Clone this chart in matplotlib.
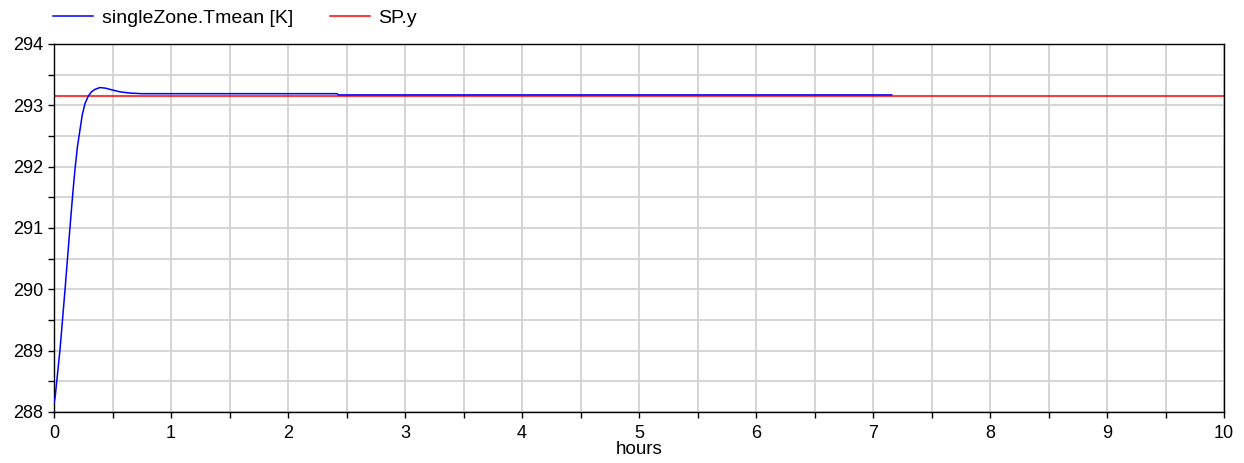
import matplotlib
matplotlib.use("Agg")
import matplotlib.pyplot as plt
from matplotlib.ticker import MultipleLocator

plt.rcParams['font.family'] = ['Liberation Sans', 'DejaVu Sans']

# Data
t_zone = [0.0, 0.009, 0.051, 0.094, 0.137, 0.16, 0.179, 0.20, 0.222, 0.242, 0.265, 0.293,
          0.32, 0.35, 0.393, 0.44, 0.479, 0.564, 0.65, 0.75, 2.42, 2.43, 7.16]
T_zone = [288.15, 288.23, 289.01, 289.99, 291.02, 291.55, 291.95, 292.32, 292.60, 292.85, 293.03, 293.15,
          293.22, 293.26, 293.29, 293.28, 293.26, 293.22, 293.20, 293.19, 293.19, 293.17, 293.17]
t_sp = [0.0, 10.0]
T_sp = [293.15, 293.15]
series_labels = ["singleZone.Tmean [K]", "SP.y"]

fig = plt.figure(figsize=(12.44, 4.63), dpi=100)
ax = fig.add_axes([54/1244, 1 - 412/463, (1224-54)/1244, (412-44)/463])

l1, = ax.plot(t_zone, T_zone, color=(0, 0, 1), lw=1.1, label=series_labels[0], zorder=3)
l2, = ax.plot(t_sp, T_sp, color=(1, 0, 0), lw=1.1, label=series_labels[1], zorder=2)

ax.set_xlim(0, 10)
ax.set_ylim(288, 294)
ax.xaxis.set_major_locator(MultipleLocator(1))
ax.xaxis.set_minor_locator(MultipleLocator(0.5))
ax.yaxis.set_major_locator(MultipleLocator(1))
ax.yaxis.set_minor_locator(MultipleLocator(0.5))
ax.grid(True, which='both', color='#d2d2d2', lw=1.3, zorder=0)
ax.set_axisbelow(True)
ax.tick_params(which='both', direction='out', length=4.5, width=1, color='black',
               labelsize=13)
ax.tick_params(axis='x', pad=4.5)
ax.tick_params(axis='y', pad=3)
for s in ax.spines.values():
    s.set_color('black')
    s.set_linewidth(1.0)
ax.set_xlabel("hours", fontsize=13.5, labelpad=0)

fig.legend(handles=[l1, l2], loc='center left', bbox_to_anchor=(53/1244, 1 - 18/463),
           ncol=2, frameon=False, fontsize=14, handlelength=2.05,
           handletextpad=0.45, columnspacing=1.9, borderaxespad=0, borderpad=0)

fig.savefig("out.png", dpi=100)
